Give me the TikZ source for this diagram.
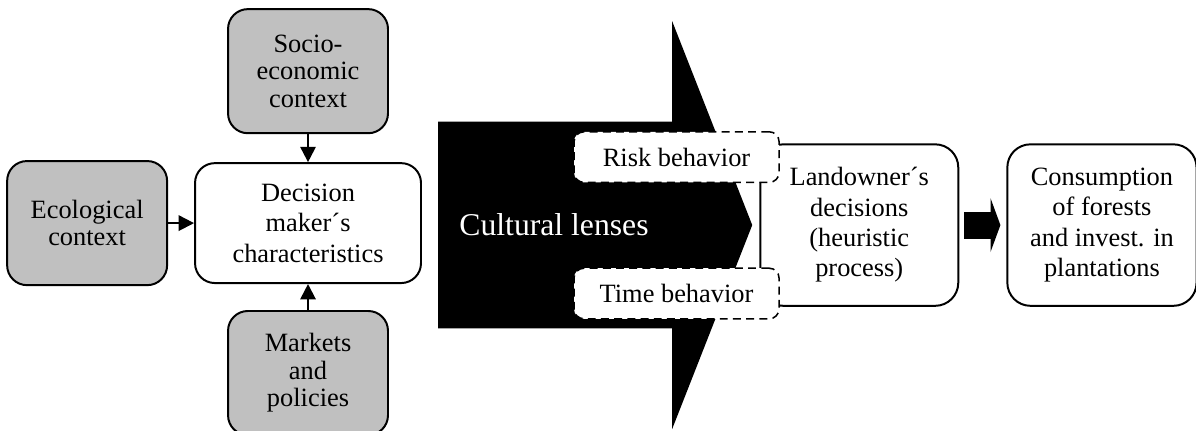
\documentclass[tikz,border=0pt]{standalone}
\usepackage{fontspec}
\setmainfont{Liberation Serif}
\usetikzlibrary{positioning, arrows.meta, calc}
\definecolor{ctxgray}{HTML}{C0C0C0}
\tikzset{
  ctxbox/.style={rounded corners=9pt, draw=black, line width=0.9pt, fill=ctxgray,
                 align=center, font=\fontsize{12}{12.5}\selectfont,
                 minimum width=72.7pt, minimum height=56.4pt, inner sep=2pt},
  dmbox/.style={rounded corners=9pt, draw=black, line width=0.9pt, fill=white,
                align=center, font=\fontsize{12}{13.8}\selectfont, inner sep=2pt},
  outbox/.style={rounded corners=10.5pt, draw=black, line width=0.9pt, fill=white,
                 align=center, font=\fontsize{12}{13.8}\selectfont,
                 minimum height=73.4pt, inner sep=2pt},
  lensbox/.style={rounded corners=4.5pt, draw=black, dash pattern=on 3.6pt off 2.4pt,
                  line width=0.7pt, fill=white, font=\fontsize{12}{14}\selectfont,
                  minimum width=93.2pt, minimum height=23pt, inner sep=2pt},
  link/.style={-{Triangle[length=7pt, width=7pt]}, line width=0.9pt},
  fat/.style={-{Triangle[length=4.5pt, width=24.5pt, line width=0pt]}, line width=12.3pt},
}

\begin{document}
\begin{tikzpicture}[node distance=12pt]
  \useasboundingbox (0,0) rectangle (543.6pt,-195.5pt);
  % decision maker and its three contexts
  \node[dmbox, minimum width=102.7pt, minimum height=54.5pt] (dm) at (140pt,-101.4pt)
        {Decision\\maker´s\\characteristics};
  \node[ctxbox, above=12.7pt of dm] (soc) {Socio-\\economic\\context};
  \node[ctxbox, left=11.8pt of dm] (eco) {Ecological\\context};
  \node[ctxbox, below=11.8pt of dm] (mkt) {Markets\\and\\policies};
  \draw[link] (soc) -- (dm);
  \draw[link] (eco) -- (dm);
  \draw[link] (mkt) -- (dm);
  % the big black arrow
  \coordinate (tail) at ($(dm.east)+(7.3pt,-0.9pt)$);
  \fill (tail) ++(0,47pt) -- ++(106.4pt,0) -- ++(0,45.7pt)
        -- ++(36.4pt,-92.7pt) coordinate (tip) -- ++(-36.4pt,-92.7pt)
        -- ++(0,45.7pt) -- ++(-106.4pt,0) -- cycle;
  \node[text=white, font=\fontsize{14.4}{16}\selectfont] (lens) at ($(tail)+(52.7pt,0)$)
        {Cultural lenses};
  % decisions and outcome
  \node[outbox, right=3.2pt of tip, minimum width=90pt] (land)
        {Landowner´s\\decisions\\(heuristic\\process)};
  \node[outbox, right=21.4pt of land, minimum width=86pt] (cons)
        {Consumption\\of forests\\and invest. in\\plantations};
  \draw[fat, shorten <=2.3pt, shorten >=2.7pt] (land) -- (cons);
  % dashed lenses on top
  \node[lensbox] (risk) at ($(tail)+(108.4pt,30.9pt)$) {Risk behavior};
  \node[lensbox] (time) at ($(tail)+(108.4pt,-31.1pt)$) {Time behavior};
\end{tikzpicture}
\end{document}
